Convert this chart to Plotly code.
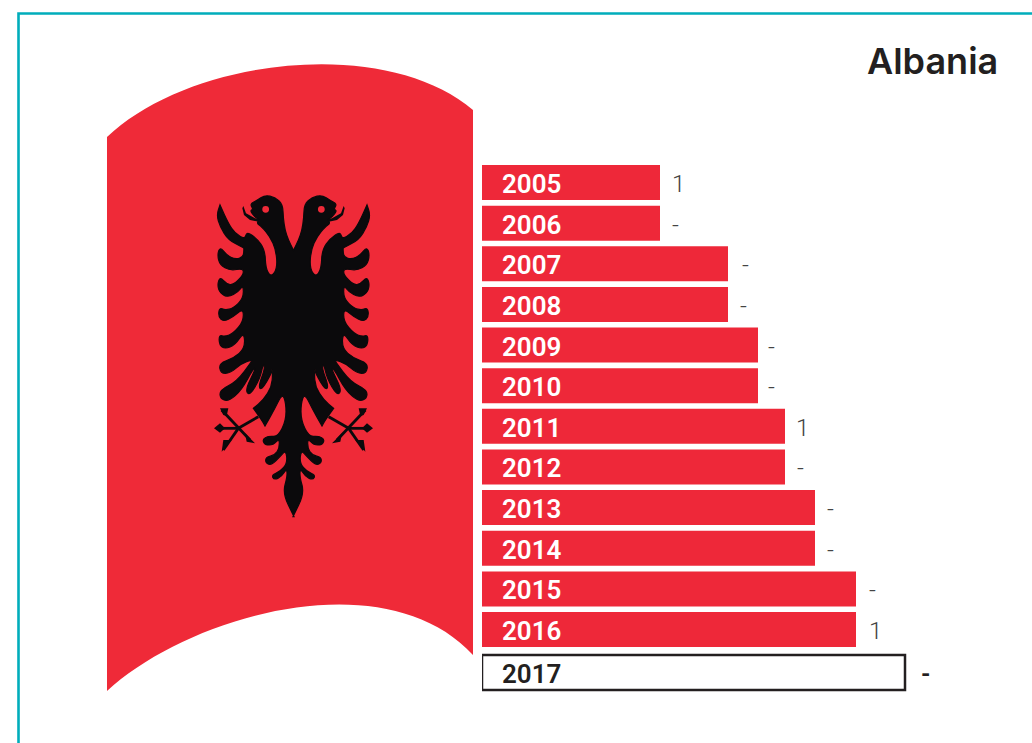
import plotly.graph_objects as go

W, H = 1032, 743

# ---------- data ----------
years = ["2005", "2006", "2007", "2008", "2009", "2010", "2011",
         "2012", "2013", "2014", "2015", "2016", "2017"]
bar_lengths = [178, 178, 246, 246, 276, 276, 303, 303, 333, 333, 374, 374, 423]
value_labels = ["1", "-", "-", "-", "-", "-", "1", "-", "-", "-", "-", "1", "-"]
title_text = "Albania"

# ---------- style ----------
RED = "#ee2839"
FLAG_RED = "#ef2a38"
INK = "#231f20"
TEAL = "#00adbb"
LABEL_SHIFTS = [18, 15, 17, 15, 13, 13, 17, 15, 15, 15, 16, 19, 20]
X_LEFT = 482
PITCH = 40.64
Y_TOP = 182.5 - PITCH / 2
Y_BOTTOM = Y_TOP + 13.3 * PITCH
LAST_ROW_SHIFT = 2.3  # the outlined 2017 row sits a little lower than the regular pitch
TEXT_DROP = 1.5


def px(x):
    return x / W


def py(y):
    return 1 - y / H


def pt(p):
    return f"{px(p[0]):.5f},{py(p[1]):.5f}"


def z1(p):
    return (200 + p[0] / 3, 180 + p[1] / 3)


def z2(p):
    return (200 + p[0] / 3, 340 + p[1] / 3)


def mirror(p):
    return (2 * 293.5 - p[0], p[1])


def to_path(points, close=True):
    s = "M " + " L ".join(pt(p) for p in points)
    return s + (" Z" if close else "")


def mid(a, b):
    return ((a[0] + b[0]) / 2, (a[1] + b[1]) / 2)


def smooth(points):
    """Closed path: quadratic segments between midpoints, keeps the shape soft."""
    n = len(points)
    s = "M " + pt(mid(points[-1], points[0]))
    for i in range(n):
        s += f" Q {pt(points[i])} {pt(mid(points[i], points[(i + 1) % n]))}"
    return s + " Z"


# flag silhouette (decorative artwork, pixels)
flag_path = (f"M {pt((107, 137))} C {pt((190, 58))} {pt((385, 35))} {pt((473, 110))}"
             f" L {pt((473, 655))} C {pt((385, 560))} {pt((190, 615))} {pt((107, 691))} Z")

eagle_upper = [(281, 212), (265, 180), (255, 150), (250, 115), (248, 72), (225, 52), (195, 45), (170, 62),
               (150, 72), (160, 88), (150, 92), (165, 112), (178, 118), (170, 130), (185, 140), (210, 170),
               (228, 210), (232, 265), (213, 292), (197, 265), (195, 210), (170, 175), (140, 155),
               (135, 178), (105, 160), (85, 130), (60, 75), (60, 75), (50, 105), (60, 140), (85, 180), (130, 203),
               (132, 205), (130, 232), (105, 238), (80, 225), (60, 200), (52, 225), (60, 255), (90, 272), (130, 265),
               (130, 285), (100, 315), (80, 312), (60, 290), (52, 315), (60, 340), (85, 352), (115, 335), (130, 315),
               (130, 355), (100, 385), (75, 390), (58, 383), (55, 410), (70, 425), (100, 410), (130, 385),
               (130, 425), (100, 460), (75, 470), (57, 465), (58, 495), (75, 507), (105, 495), (132, 455)]
eagle_lower = [(135, 25), (100, 55), (57, 70), (62, 100), (90, 100), (125, 70), (155, 60),
               (155, 65), (110, 125), (60, 150), (60, 175), (85, 185), (125, 150), (160, 85),
               (168, 85), (135, 150), (150, 167), (180, 115), (190, 70),
               (195, 85), (175, 140), (185, 150), (215, 100), (215, 85),
               (218, 100), (215, 140), (190, 180), (160, 205), (160, 205), (185, 240), (195, 258), (195, 258),
               (225, 205), (247, 160), (258, 190), (258, 240), (235, 290),
               (205, 288), (187, 298), (195, 315), (220, 315), (238, 295),
               (238, 325), (225, 345), (197, 352), (197, 370), (215, 375), (240, 350), (258, 330),
               (262, 370), (240, 395), (215, 405), (222, 420), (245, 410), (260, 385),
               (262, 410), (248, 460), (282, 530), (282, 530)]
half = [z1(p) for p in eagle_upper] + [z2(p) for p in eagle_lower]
beak = [z1(p) for p in [(130, 78), (138, 100), (165, 115), (178, 118), (175, 125), (150, 120), (132, 105), (127, 85)]]
eye = z1((197, 88))
claw_lines = [[(175, 230), (115, 265)], [(50, 265), (115, 265)], [(65, 210), (150, 300)], [(115, 265), (70, 330)]]
claw_tips = [[(42, 265), (60, 250), (75, 265), (60, 278)],
             [(60, 205), (85, 205), (80, 228), (70, 225)],
             [(135, 280), (165, 310), (140, 305)],
             [(65, 335), (70, 300), (95, 300)]]

EAGLE = "#0b0a0c"
shapes = [
    dict(type="path", path=flag_path, xref="paper", yref="paper", fillcolor=FLAG_RED,
         line=dict(width=0), layer="below"),
    dict(type="path", path=smooth(half + [mirror(p) for p in reversed(half)]), xref="paper", yref="paper",
         fillcolor=EAGLE, line=dict(color=EAGLE, width=1.2), layer="below"),
]
for side in (lambda p: p, mirror):
    shapes.append(dict(type="path", path=to_path([side(p) for p in beak]), xref="paper", yref="paper",
                       fillcolor=EAGLE, line=dict(width=0), layer="below"))
    ex, ey = side(eye)
    shapes.append(dict(type="circle", xref="paper", yref="paper", x0=px(ex - 3.4), x1=px(ex + 3.4),
                       y0=py(ey + 3.4), y1=py(ey - 3.4), fillcolor=FLAG_RED, line=dict(width=0), layer="below"))
    for seg in claw_lines:
        shapes.append(dict(type="path", path=to_path([side(z2(p)) for p in seg], close=False),
                           xref="paper", yref="paper", line=dict(color=EAGLE, width=2.8), layer="below"))
    for tip in claw_tips:
        shapes.append(dict(type="path", path=to_path([side(z2(p)) for p in tip]), xref="paper", yref="paper",
                           fillcolor=EAGLE, line=dict(width=0), layer="below"))

# teal frame
shapes.append(dict(type="path", path=to_path([(18.5, H + 5), (18.5, 13.5), (W + 5, 13.5)], close=False),
                   xref="paper", yref="paper", line=dict(color=TEAL, width=2.6)))

fig = go.Figure()
fig.add_trace(go.Bar(y=years[:-1], x=bar_lengths[:-1], orientation="h", width=35 / PITCH,
                     marker=dict(color=RED, line=dict(width=0)), hoverinfo="skip"))
fig.add_trace(go.Bar(y=years[-1:], x=bar_lengths[-1:], orientation="h", width=35 / PITCH,
                     offset=(-17.5 + LAST_ROW_SHIFT) / PITCH,
                     marker=dict(color="white", line=dict(color=INK, width=2.5)), hoverinfo="skip"))

annotations = [dict(text=title_text, xref="paper", yref="paper", x=px(999.5), y=py(61), xanchor="right",
                    yanchor="middle", showarrow=False,
                    font=dict(family="Inter", size=36, color=INK, weight=600))]
for i, year in enumerate(years):
    last = i == len(years) - 1
    shift = (-LAST_ROW_SHIFT if last else 0) - TEXT_DROP
    annotations.append(dict(text=year, x=0, y=i, xref="x", yref="y", xanchor="left", yanchor="middle",
                            xshift=18, yshift=shift, showarrow=False,
                            font=dict(family="Roboto", size=26, weight=600, color=INK if last else "white")))
    annotations.append(dict(text=value_labels[i], x=bar_lengths[i], y=i, xref="x", yref="y",
                            xanchor="center", yanchor="middle", xshift=LABEL_SHIFTS[i], yshift=shift,
                            showarrow=False,
                            font=dict(family="Roboto", size=24, weight=700 if last else 300,
                                      color=INK if last else "#444444")))

fig.update_layout(
    width=W, height=H, margin=dict(l=0, r=0, t=0, b=0, pad=0, autoexpand=False),
    paper_bgcolor="white", plot_bgcolor="rgba(0,0,0,0)",
    showlegend=False, barmode="overlay",
    shapes=shapes, annotations=annotations,
    xaxis=dict(domain=[px(X_LEFT), 1], range=[0, W - X_LEFT], visible=False, fixedrange=True),
    yaxis=dict(domain=[py(Y_BOTTOM), py(Y_TOP)], type="category", categoryorder="array", categoryarray=years,
               range=[12.8, -0.5], visible=False, fixedrange=True),
)

fig.write_html("out.html", config=dict(displayModeBar=False),
               post_script="document.body.style.margin='0';document.body.style.overflow='hidden';")
